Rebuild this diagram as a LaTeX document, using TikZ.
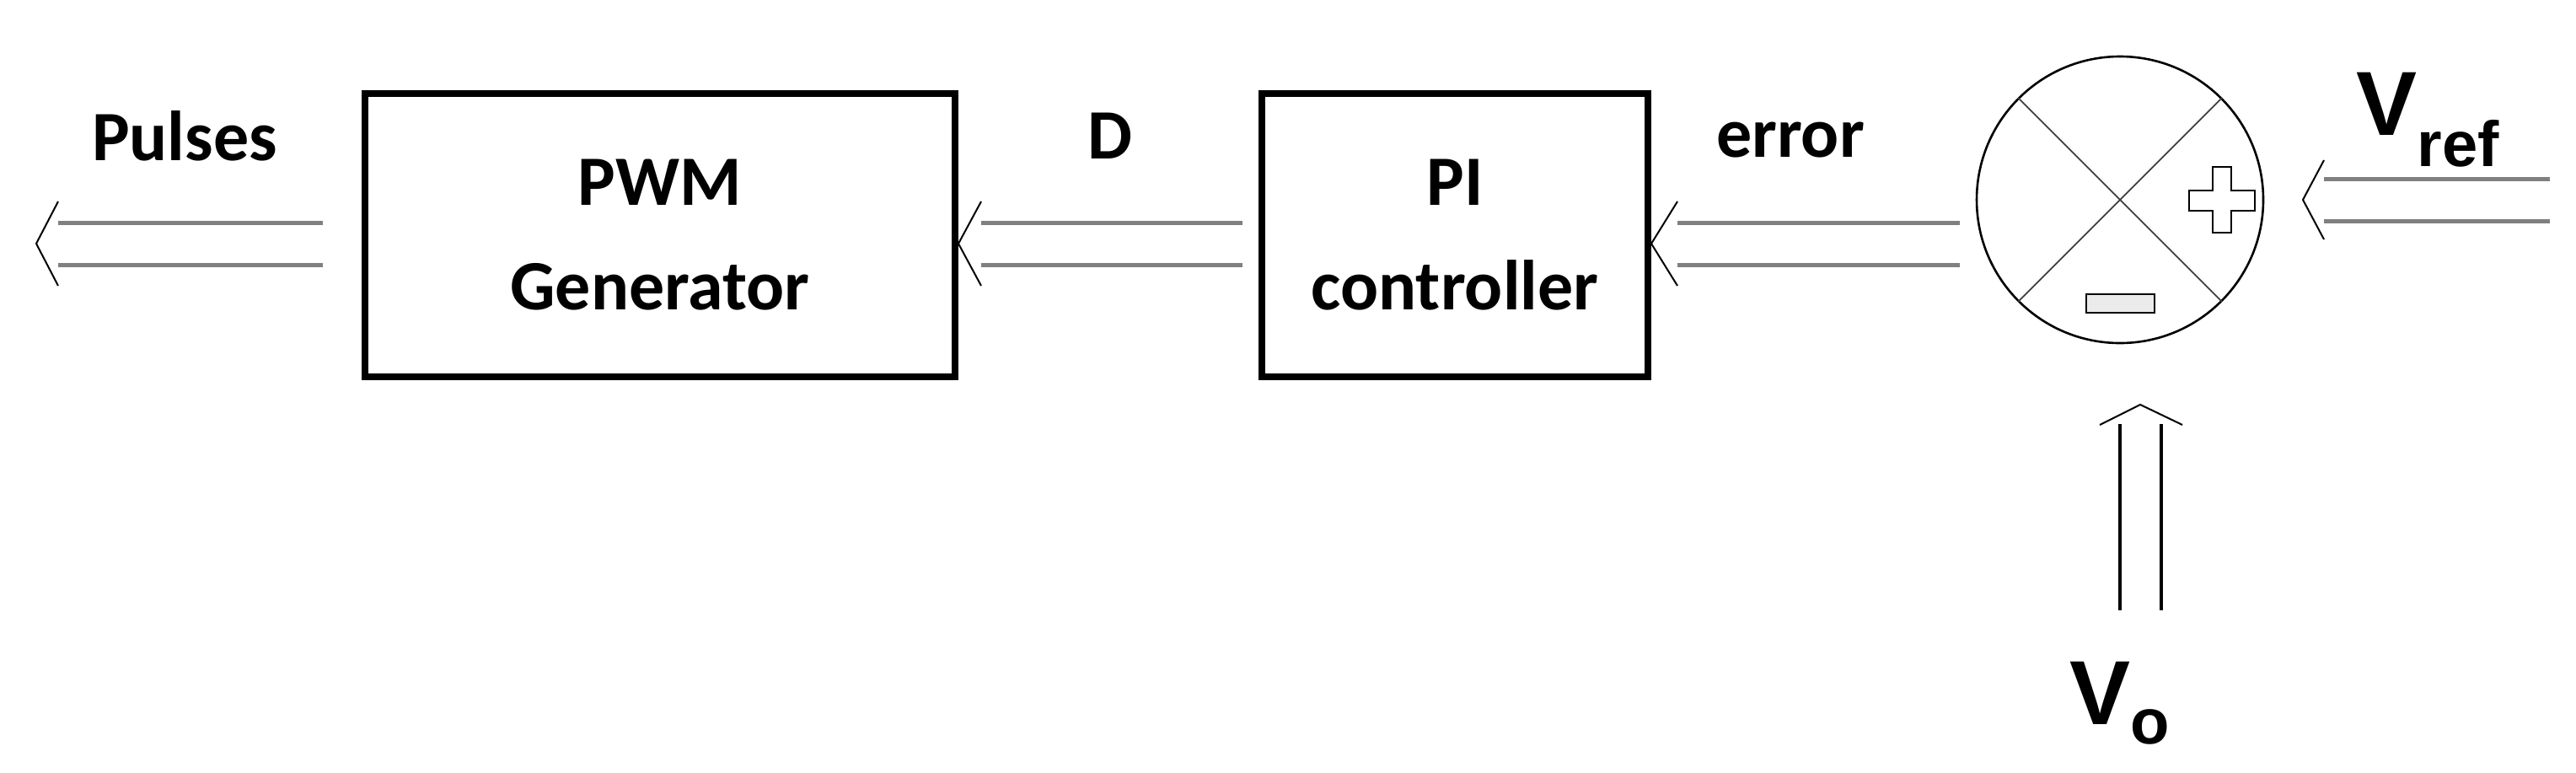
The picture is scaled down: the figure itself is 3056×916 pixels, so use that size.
\documentclass[tikz,border=0pt]{standalone}
\usepackage{fontspec}
\setmainfont{Carlito}
\newfontfamily\arialf{Liberation Sans}
\begin{document}
\begin{tikzpicture}[x=0.5pt,y=-0.5pt,
  blk/.style={draw=black,line width=4pt,minimum width=350pt,minimum height=168pt,inner sep=0pt,align=center,font=\fontsize{42}{60}\selectfont\bfseries},
  lbl/.style={inner sep=0pt,font=\fontsize{42}{50}\selectfont\bfseries},
  vl/.style={inner sep=0pt,font=\arialf\fontsize{54}{60}\selectfont\bfseries},
  dl/.style={line width=2.5pt,draw=black!50},
  dlk/.style={line width=2pt,draw=black},
  tip/.style={line width=1pt,draw=black}]
\useasboundingbox (0,0) rectangle (3056,916);
\node[blk,minimum width=350pt] (pwm) at (783,279) {PWM\\[2pt]Generator};
\node[blk,minimum width=229pt] (pi) at (1726,279) {PI\\[2pt]controller};
\node[circle,draw=black,line width=1.3pt,minimum size=170pt,inner sep=0pt] (s) at (2515,237) {};
\draw[line width=0.9pt,black!75] (s.135) -- (s.-45);
\draw[line width=0.9pt,black!75] (s.45) -- (s.-135);
% plus
\draw[line width=0.9pt] (2625,226) -- (2625,198) -- (2647,198) -- (2647,226) -- (2675,226) -- (2675,250) -- (2647,250) -- (2647,276) -- (2625,276) -- (2625,250) -- (2597,250) -- (2597,226) -- cycle;
% minus
\draw[line width=0.9pt,fill=black!8] (2475,349) rectangle (2556,371);
% labels
\node[lbl] (lp) at (219,161) {Pulses};
\node[lbl] (ld) at (1317,161) {D};
\node[lbl] (le) at (2124,166) {error};
\node[vl,anchor=base west] (lvr) at (2795,160) {V\textsubscript{\fontsize{38}{40}\selectfont ref}};
\node[vl,anchor=base west] (lvo) at (2455,859) {V\textsubscript{\fontsize{38}{40}\selectfont o}};
% coordinates
\coordinate (p1) at (69,264); \coordinate (p2) at (383,264);
\coordinate (p3) at (69,314); \coordinate (p4) at (383,314);
\coordinate (d1) at (1164,264); \coordinate (d2) at (1474,264);
\coordinate (d3) at (1164,314); \coordinate (d4) at (1474,314);
\coordinate (e1) at (1990,264); \coordinate (e2) at (2325,264);
\coordinate (e3) at (1990,314); \coordinate (e4) at (2325,314);
\coordinate (r1) at (2757,212); \coordinate (r2) at (3025,212);
\coordinate (r3) at (2757,262); \coordinate (r4) at (3025,262);
\coordinate (o1) at (2515,503); \coordinate (o2) at (2515,724);
\coordinate (o3) at (2564,503); \coordinate (o4) at (2564,724);
% Pulses arrow
\draw[dl] (p1) -- (p2); \draw[dl] (p3) -- (p4);
\draw[tip] (69,239) -- (43,289) -- (69,339);
% D arrow
\draw[dl] (d1) -- (d2); \draw[dl] (d3) -- (d4);
\draw[tip] (1164,239) -- (pwm.east |- 0,289) -- (1164,339);
% error arrow
\draw[dl] (e1) -- (e2); \draw[dl] (e3) -- (e4);
\draw[tip] (1990,239) -- (pi.east |- 0,289) -- (1990,339);
% Vref arrow
\draw[dl] (r1) -- (r2); \draw[dl] (r3) -- (r4);
\draw[tip] (2757,190) -- (2732,237) -- (2757,284);
% Vo arrow
\draw[dlk] (o1) -- (o2); \draw[dlk] (o3) -- (o4);
\draw[tip] (2491,504) -- (2539,480) -- (2589,504);
\end{tikzpicture}
\end{document}
